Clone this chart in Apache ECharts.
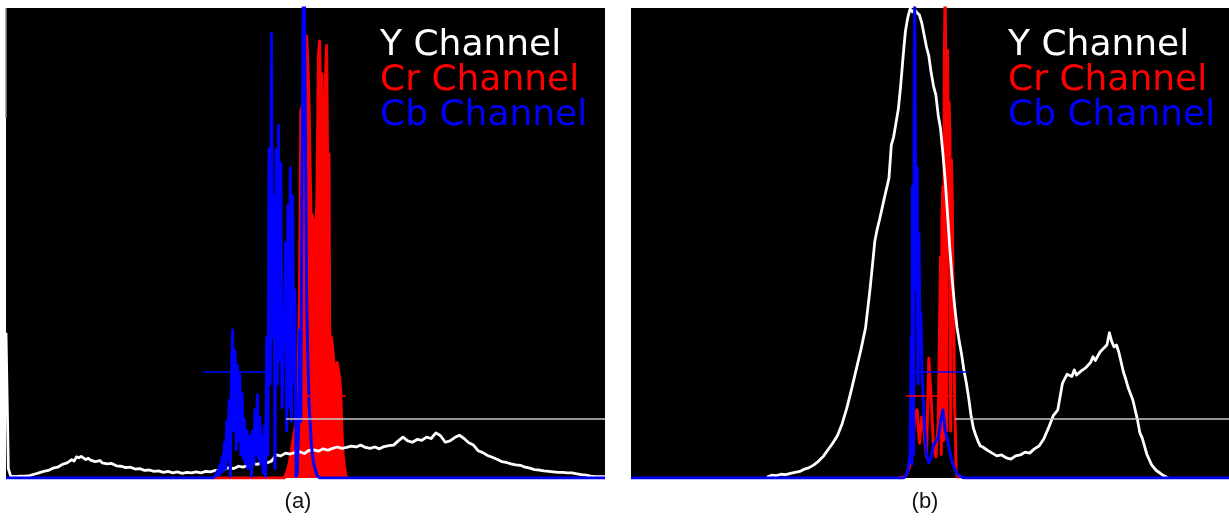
<!DOCTYPE html>
<html>
<head>
<meta charset="utf-8">
<script src="https://cdn.jsdelivr.net/npm/echarts@6/dist/echarts.min.js"></script>
<style>
  html, body { margin: 0; padding: 0; background: #ffffff; }
  #chart { width: 1229px; height: 524px; }
</style>
</head>
<body>
<div id="chart"></div>
<script>
// Histogram bins run 0..255; heights are percent of the panel height.

// ---- Panel (a) ----
const yChanA = [[0,30.9],[1,2.0],[2,0.4],[4,0.3],[6,0.4],[8,0.4],[10,0.5],[12,0.8],[14,1.1],[16,1.4],[18,1.6],
  [20,2.1],[22,2.3],[24,2.9],[26,3.2],[28,3.9],[29,3.6],[30,4.5],[31,4.3],[32,4.6],[34,3.9],[35,4.2],[36,3.8],
  [38,3.5],[40,3.7],[41,3.2],[43,3.0],[45,3.1],[47,2.6],[49,2.5],[51,2.2],[53,2.3],[55,1.9],[57,2.0],[59,1.6],
  [61,1.7],[63,1.4],[65,1.5],[67,1.2],[69,1.4],[71,1.1],[73,1.3],[75,1.0],[77,1.2],[79,1.1],[81,1.3],[83,1.1],
  [85,1.4],[87,1.3],[89,1.6],[91,1.5],[93,1.9],[95,2.2],[97,2.0],[99,2.5],[101,2.3],[103,2.9],[105,3.1],[107,2.9],
  [109,3.3],[111,3.2],[113,3.6],[115,4.9],[117,4.7],[119,5.3],[121,5.1],[123,5.4],[125,5.6],[127,5.2],[129,5.9],
  [131,6.0],[133,5.7],[135,6.2],[137,5.9],[139,6.3],[141,6.6],[143,6.3],[145,6.5],[147,6.8],[149,6.6],[151,7.0],
  [153,6.5],[155,6.3],[157,6.6],[159,6.2],[161,6.7],[163,6.9],[165,7.0],[167,7.9],[169,8.7],[171,7.9],[173,7.6],
  [175,8.2],[177,8.0],[179,8.7],[181,8.4],[183,9.6],[185,9.0],[187,7.6],[189,7.9],[191,8.6],[193,9.1],[195,8.4],
  [197,7.5],[199,7.0],[201,5.8],[203,5.4],[205,4.8],[207,4.4],[209,4.0],[211,3.5],[213,3.3],[215,3.0],[217,2.8],
  [219,2.7],[221,2.3],[223,2.1],[225,1.8],[227,1.7],[229,1.5],[231,1.4],[233,1.3],[235,1.2],[237,1.2],[239,1.1],
  [241,1.1],[243,0.9],[245,0.7],[247,0.6],[249,0.4],[251,0.3],[253,0.3],[255,0.3]];

const crA = [[88,0],[118.5,0],[119.5,1.2],[120.5,3],[121.5,6],[122.5,9],[123.5,12],[124,14],[124.5,25],[125,40],
  [125.5,78],[126,79],[126.5,45],[127,35],[127.5,72],[128,94],[128.5,88],[129,80],[129.5,65],[130,52],[130.5,56],
  [131,52],[131.5,55],[132,50],[132.5,65],[133,90],[133.5,93],[134,78],[134.5,86],[135,70],[135.5,63],[136,85],
  [136.5,92],[137,60],[137.5,69],[138,2],[138.5,30],[139,28],[139.5,25],[140,21],[140.5,23],[141,24.5],
  [141.5,23],[142,21.5],[142.5,18],[143,10],[143.5,5],[144,2.8],[144.5,1],[145,0]];

const cbA = [[0,0],[88,0],[89,0.4],[90,1.5],[90.5,0.5],[91,2.8],[91.5,1],[92,4.5],[92.5,1.5],[93,7.5],[93.5,2],
  [94,12],[94.5,4],[95,16.5],[95.5,0.3],[96,22],[96.5,31.5],[97,10],[97.5,27],[98,6],[98.5,24],[99,8],[99.5,22],
  [100,5],[100.5,18],[101,4],[101.5,12.5],[102,3],[102.5,10],[103,2],[103.5,8],[104,9],[104.5,0.3],[105,10],
  [105.5,3],[106,14.5],[106.5,5],[107,17.7],[107.5,4],[108,13],[108.5,3],[109,9],[109.5,1],[110,11],[110.5,0.3],
  [111,30],[111.5,5],[112,70],[112.5,20],[113,94.7],[113.5,30],[114,60],[114.5,2],[115,70],[115.5,20],[116,75],
  [116.5,25],[117,67],[117.5,15],[118,30],[118.5,28],[119,50],[119.5,10],[120,58],[120.5,15],[121,66],[121.5,12],
  [122,60],[122.5,20],[123,40],[123.5,0.3],[124,1],[124.5,10],[125,31.5],[125.5,12],[126,60],[126.5,100],
  [127,105],[127.5,105],[128,38],[128.5,25],[129,16],[130,7],[131,3],[132,1.2],[132.5,0.5],[133.5,0],[255,0]];

// mean markers: [fromBin, toBin, level]
const meanYA = [119.2, 255, 12.6];
const meanCrA = [126.8, 144.7, 17.4];
const meanCbA = [84, 110.7, 22.6];
// grey stroke along the left edge: [bin, from, to]
const edgeA = [0, 76.6, 100];

// ---- Panel (b) ----
const yChanB = [[58,0.2],[60,0.6],[62,0.5],[64,0.8],[66,0.7],[68,1.0],[70,1.2],[72,1.4],[74,1.9],[76,2.2],[78,2.8],
  [80,3.6],[82,4.6],[84,6.0],[86,7.4],[88,9.0],[90,11.5],[92,14.8],[94,18.8],[96,23.0],[98,27.2],[100,31.9],
  [102,40.5],[104,50.5],[105,53.0],[106,55.0],[108,59.5],[110,63.8],[111,70.8],[112,72.6],[114,78.5],[115,83.5],
  [116,89.5],[117,95.0],[118,97.9],[119,99.8],[120,99.2],[121,99.6],[122,99.0],[123,98.5],[124,96.8],[126,91.7],
  [127,89.8],[128,86.2],[129,83.4],[130,81.5],[131,77.2],[132,74.3],[133,69.0],[134,63.2],[135,56.0],[136,48.5],
  [137,42.0],[138,36.6],[139,32.1],[140,29.0],[141,26.2],[142,22.8],[143,20.2],[144,17.0],[145,13.3],[146,10.6],
  [147,9.1],[148,7.8],[149,6.8],[150,6.6],[152,5.9],[154,5.3],[156,4.7],[158,4.9],[160,4.3],[162,4.0],[164,4.7],
  [166,4.9],[168,5.5],[170,5.3],[172,6.2],[174,6.8],[176,8.3],[178,10.6],[180,13.2],[182,14.5],[184,20.2],
  [186,22.1],[188,21.6],[189,23.0],[190,21.9],[192,22.8],[194,23.5],[196,24.6],[197,25.8],[198,25.0],[200,26.8],
  [202,27.8],[203,28.4],[204,30.9],[205,29.0],[206,27.9],[207,28.3],[208,26.8],[210,22.5],[211,21.0],[212,19.2],
  [214,16.6],[216,12.3],[217,9.6],[218,8.5],[220,5.0],[222,2.8],[224,1.6],[226,0.9],[227,0.5],[228,0.3],[229,0]];

const crB = [[114,0],[117,0.3],[118,1.3],[119,2.6],[120,6],[121,13.4],[122,14.5],[123,7.4],[124,13],[125,9.6],
  [126,4.5],[127,25.5],[128,16.6],[129,6.6],[130,4.5],[131,11.7],[131.5,30],[132,47],[132.3,5],[132.6,55],[133,62],
  [133.3,8],[133.6,89],[134,106],[134.3,106],[134.6,10],[135,91],[135.3,60],[135.6,80],[136,73],[136.3,10],
  [136.6,67.7],[137,60],[137.3,40],[137.7,31],[138,15],[138.3,10],[138.6,1.7],[139,0.5],[140,0]];

const cbB = [[0,0],[116,0],[117,0.3],[118,1.5],[119,5],[119.5,30],[119.8,3],[120,62],[120.5,5],[120.8,90],[121,100.5],
  [121.3,100.5],[121.6,40],[122,66],[122.4,20],[122.8,52],[123.2,30],[123.6,35],[124,24],[125,12],[126,5],
  [127,3.2],[128,4.5],[129,7],[130,7.8],[131,8.5],[132,12],[133,14.5],[134,10],[135,8],[136,5.5],[137,3.2],
  [138,2],[139,1],[140,0.5],[141,0.2],[142,0],[255,0]];

const meanYB = [138.2, 255, 12.6];
const meanCrB = [117.3, 137.3, 17.4];
const meanCbB = [119.8, 143.3, 22.6];

const legendLabels = ['Y Channel', 'Cr Channel', 'Cb Channel'];
const panelLabels = ['(a)', '(b)'];

const COLORS = { y: '#ffffff', cr: '#ff0000', cb: '#0000ff', mean: '#c8c8c8', edge: '#8a8a8a' };

function segment(m, color, width) {
  return {
    silent: true,
    symbol: ['none', 'none'],
    label: { show: false },
    animation: false,
    lineStyle: { color: color, width: width, type: 'solid' },
    data: [[{ coord: [m[0], m[2]] }, { coord: [m[1], m[2]] }]]
  };
}

function hist(name, data, color, idx, width, mark, filled) {
  const s = {
    type: 'line',
    name: name,
    xAxisIndex: idx,
    yAxisIndex: idx,
    data: data,
    symbol: 'none',
    showSymbol: false,
    clip: true,
    silent: true,
    animation: false,
    lineStyle: { color: color, width: width, join: 'round' }
  };
  if (filled) s.areaStyle = { color: color, opacity: 1 };
  if (mark) s.markLine = mark;
  return s;
}

const yMarkA = segment(meanYA, COLORS.mean, 1.5);
yMarkA.data.push([{ coord: [edgeA[0], edgeA[1]], lineStyle: { color: COLORS.edge } },
                  { coord: [edgeA[0], edgeA[2]] }]);

const chart = echarts.init(document.getElementById('chart'), null, { renderer: 'canvas' });

const panelX = [380, 1008];
const legendTop = [28, 63, 98];
const legendColors = [COLORS.y, COLORS.cr, COLORS.cb];

const graphics = [];
panelX.forEach(function (px) {
  legendLabels.forEach(function (t, i) {
    graphics.push({
      type: 'text', left: px, top: legendTop[i], silent: true, z: 100,
      style: { text: t, fill: legendColors[i], font: '36px "DejaVu Sans"' }
    });
  });
});
[298, 925].forEach(function (cx, i) {
  graphics.push({
    type: 'text', x: cx, y: 502, silent: true,
    style: { text: panelLabels[i], fill: '#111111', font: '22px "Liberation Sans", Arial, sans-serif',
             align: 'center', verticalAlign: 'middle' }
  });
});

chart.setOption({
  animation: false,
  backgroundColor: '#ffffff',
  grid: [
    { left: 6, top: 8, width: 599, height: 470, show: true, backgroundColor: '#000000', borderWidth: 0 },
    { left: 631, top: 8, width: 598, height: 470, show: true, backgroundColor: '#000000', borderWidth: 0 }
  ],
  xAxis: [
    { gridIndex: 0, type: 'value', min: 0, max: 255, show: false },
    { gridIndex: 1, type: 'value', min: 0, max: 255, show: false }
  ],
  yAxis: [
    { gridIndex: 0, type: 'value', min: 0, max: 100, show: false },
    { gridIndex: 1, type: 'value', min: 0, max: 100, show: false }
  ],
  series: [
    hist('Cr Channel', crA, COLORS.cr, 0, 3, segment(meanCrA, COLORS.cr, 1.5), true),
    hist('Y Channel', yChanA, COLORS.y, 0, 2.8, yMarkA),
    hist('Cb Channel', cbA, COLORS.cb, 0, 3, segment(meanCbA, COLORS.cb, 1.5)),
    hist('Cr Channel', crB, COLORS.cr, 1, 3, segment(meanCrB, COLORS.cr, 1.5)),
    hist('Y Channel', yChanB, COLORS.y, 1, 2.8, segment(meanYB, COLORS.mean, 1.5)),
    hist('Cb Channel', cbB, COLORS.cb, 1, 3, segment(meanCbB, COLORS.cb, 1.5))
  ],
  graphic: graphics
});
</script>
</body>
</html>
